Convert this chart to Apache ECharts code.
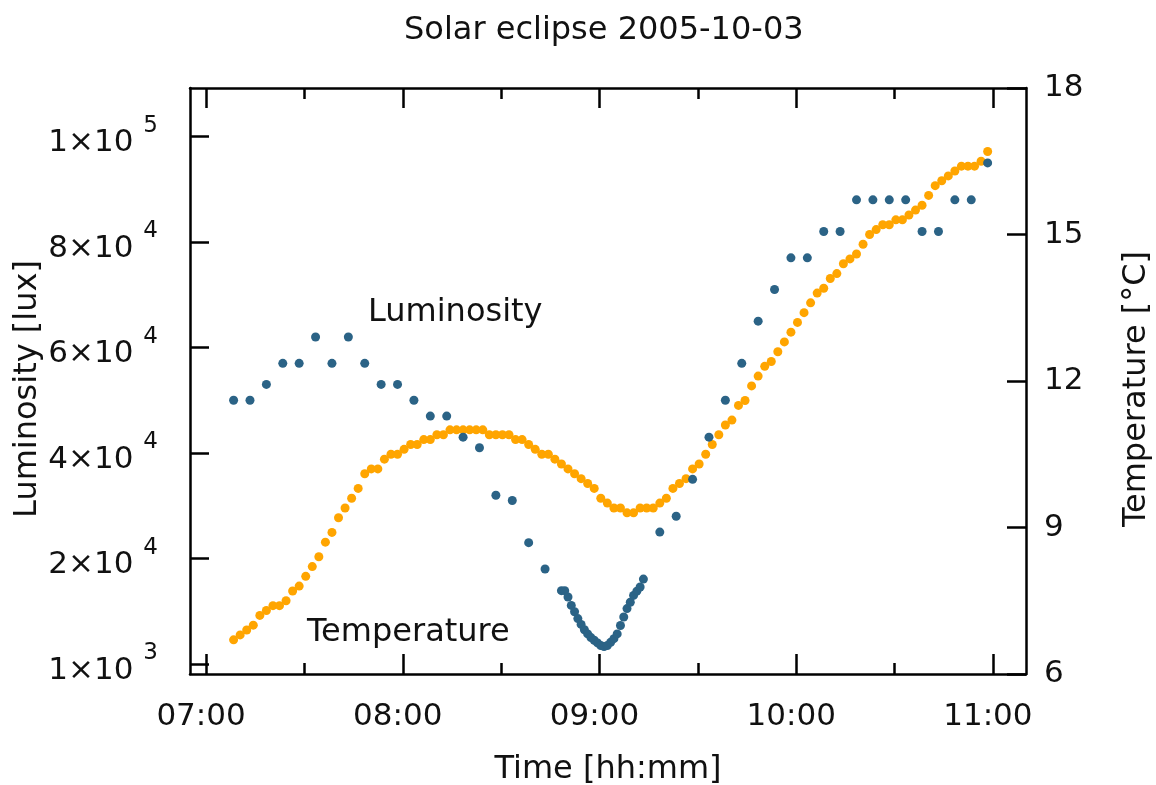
<!DOCTYPE html>
<html><head><meta charset="utf-8">
<script src="https://cdn.jsdelivr.net/npm/echarts@6/dist/echarts.min.js"></script>
<style>html,body{margin:0;padding:0;background:#fff}#c{width:1156px;height:785px}</style>
</head><body><div id="c"></div>
<script>
// minutes after 07:00
const tempMinutes = [
  8.4, 10.4, 12.4, 14.4, 16.4, 18.4, 20.4, 22.4, 24.4, 26.4,
  28.4, 30.4, 32.4, 34.4, 36.4, 38.4, 40.4, 42.4, 44.4, 46.4,
  48.4, 50.4, 52.4, 54.4, 56.4, 58.4, 60.4, 62.4, 64.4, 66.4,
  68.4, 70.4, 72.4, 74.4, 76.4, 78.4, 80.4, 82.4, 84.4, 86.4,
  88.4, 90.4, 92.4, 94.4, 96.4, 98.4, 100.4, 102.4, 104.4, 106.4,
  108.4, 110.4, 112.4, 114.4, 116.4, 118.4, 120.4, 122.4, 124.4, 126.4,
  128.4, 130.4, 132.4, 134.4, 136.4, 138.4, 140.4, 142.4, 144.4, 146.4,
  148.4, 150.4, 152.4, 154.4, 156.4, 158.4, 160.4, 162.4, 164.4, 166.4,
  168.4, 170.4, 172.4, 174.4, 176.4, 178.4, 180.4, 182.4, 184.4, 186.4,
  188.4, 190.4, 192.4, 194.4, 196.4, 198.4, 200.4, 202.4, 204.4, 206.4,
  208.4, 210.4, 212.4, 214.4, 216.4, 218.4, 220.4, 222.4, 224.4, 226.4,
  228.4, 230.4, 232.4, 234.4, 236.4, 238.4
];
const temperature = [
  6.7, 6.8, 6.9, 7.0, 7.2, 7.3, 7.4, 7.4, 7.5, 7.7,
  7.8, 8.0, 8.2, 8.4, 8.7, 8.9, 9.2, 9.4, 9.6, 9.8,
  10.1, 10.2, 10.2, 10.4, 10.5, 10.5, 10.6, 10.7, 10.7, 10.8,
  10.8, 10.9, 10.9, 11.0, 11.0, 11.0, 11.0, 11.0, 11.0, 10.9,
  10.9, 10.9, 10.9, 10.8, 10.8, 10.7, 10.6, 10.5, 10.5, 10.4,
  10.3, 10.2, 10.1, 10.0, 9.9, 9.8, 9.6, 9.5, 9.4, 9.4,
  9.3, 9.3, 9.4, 9.4, 9.4, 9.5, 9.6, 9.8, 9.9, 10.0,
  10.2, 10.3, 10.5, 10.7, 10.9, 11.1, 11.2, 11.5, 11.6, 11.9,
  12.1, 12.3, 12.4, 12.6, 12.8, 13.0, 13.2, 13.4, 13.6, 13.8,
  13.9, 14.1, 14.2, 14.4, 14.5, 14.6, 14.8, 15.0, 15.1, 15.2,
  15.2, 15.3, 15.3, 15.4, 15.5, 15.6, 15.8, 16.0, 16.1, 16.2,
  16.3, 16.4, 16.4, 16.4, 16.5, 16.7
];
const lumMinutes = [
  8.4, 13.4, 18.4, 23.4, 28.4, 33.4, 38.4, 43.4, 48.4, 53.4,
  58.4, 63.4, 68.4, 73.4, 78.4, 83.4, 88.4, 93.4, 98.4, 103.4,
  108.4, 109.4, 110.4, 111.4, 112.4, 113.4, 114.4, 115.4, 116.4, 117.4,
  118.4, 119.4, 120.4, 121.4, 122.4, 123.4, 124.4, 125.4, 126.4, 127.4,
  128.4, 129.4, 130.4, 131.4, 132.4, 133.4,
  138.4, 143.4, 148.4, 153.4, 158.4, 163.4, 168.4, 173.4, 178.4, 183.4,
  188.4, 193.4, 198.4, 203.4, 208.4, 213.4, 218.4, 223.4, 228.4, 233.4, 238.4
];
const luminosity = [
  50000, 50000, 53000, 57000, 57000, 62000, 57000, 62000, 57000, 53000,
  53000, 50000, 47000, 47000, 43000, 41000, 32000, 31000, 23000, 18000,
  13900, 13900, 12700, 11100, 9900, 8600, 7500, 6500, 5700, 5000,
  4500, 4000, 3500, 3300, 3500, 4100, 4800, 5700, 7300, 8900,
  10500, 11700, 13000, 13800, 14600, 16100,
  25000, 28000, 35000, 43000, 50000, 57000, 65000, 71000, 77000, 77000,
  82000, 82000, 88000, 88000, 88000, 88000, 82000, 82000, 88000, 88000, 95000
];
const timeTickValues = [0, 60, 120, 180, 240];
const timeTickLabels = ['07:00', '08:00', '09:00', '10:00', '11:00'];
const timeMinorTicks = [30, 90, 150, 210];
const lumTickValues = [0, 20000, 40000, 60000, 80000, 100000];
const lumTickMantissa = ['1', '2', '4', '6', '8', '1'];
const lumTickExponent = ['3', '4', '4', '4', '4', '5'];

const FONT = 'DejaVu Sans';
const TXT = '#111';
const chart = echarts.init(document.getElementById('c'));
const lineSt = { color: '#000', width: 2.5 };
const xBase = { type: 'value', min: -4.9, max: 250.1, splitLine: { show: false } };
const option = {
  animation: false,
  title: { text: 'Solar eclipse 2005-10-03', left: 399, top: 10,
    textStyle: { fontFamily: FONT, fontSize: 32, fontWeight: 'normal', color: TXT } },
  grid: { left: 190, right: 130, top: 88, bottom: 111, containLabel: false, outerBoundsMode: 'none' },
  xAxis: [
    Object.assign({}, xBase, {
      position: 'bottom', name: 'Time [hh:mm]', nameLocation: 'middle', nameGap: 80, nameMoveOverlap: false,
      nameTextStyle: { fontFamily: FONT, fontSize: 32, color: TXT },
      axisLine: { show: true, onZero: false, lineStyle: lineSt },
      axisTick: { show: true, inside: true, length: 20, customValues: timeTickValues, lineStyle: lineSt },
      axisLabel: { show: true, customValues: timeTickValues, margin: 27, fontFamily: FONT, fontSize: 31, color: TXT,
        padding: [0, 10, 0, 0],
        formatter: v => timeTickLabels[timeTickValues.indexOf(v)] }
    }),
    Object.assign({}, xBase, {
      position: 'bottom', axisLine: { show: false, onZero: false },
      axisTick: { show: true, inside: true, length: 11, customValues: timeMinorTicks, lineStyle: lineSt },
      axisLabel: { show: false }
    }),
    Object.assign({}, xBase, {
      position: 'top', axisLine: { show: true, onZero: false, lineStyle: lineSt },
      axisTick: { show: true, inside: true, length: 20, customValues: timeTickValues, lineStyle: lineSt },
      axisLabel: { show: false }
    }),
    Object.assign({}, xBase, {
      position: 'top', axisLine: { show: false, onZero: false },
      axisTick: { show: true, inside: true, length: 11, customValues: timeMinorTicks, lineStyle: lineSt },
      axisLabel: { show: false }
    })
  ],
  yAxis: [
    {
      type: 'value', position: 'left', min: -1900, max: 109200, splitLine: { show: false },
      name: 'Luminosity [lux]', nameLocation: 'middle', nameRotate: 90, nameGap: 146, nameMoveOverlap: false,
      nameTextStyle: { fontFamily: FONT, fontSize: 32, color: TXT, padding: [0, 16, 0, 0] },
      axisLine: { show: true, onZero: false, lineStyle: lineSt },
      axisTick: { show: true, inside: true, length: 19, customValues: lumTickValues, lineStyle: lineSt },
      axisLabel: { show: true, customValues: lumTickValues, margin: 32,
        formatter: v => { const i = lumTickValues.indexOf(v); return '{m|' + lumTickMantissa[i] + '×10}{e|' + lumTickExponent[i] + '}'; },
        rich: {
          m: { fontFamily: FONT, fontSize: 31, color: TXT, lineHeight: 44, verticalAlign: 'bottom' },
          e: { fontFamily: FONT, fontSize: 23, color: TXT, lineHeight: 44, verticalAlign: 'top', padding: [0, 0, 0, 10] }
        } }
    },
    {
      type: 'value', position: 'right', min: 6, max: 18, interval: 3, splitLine: { show: false },
      name: 'Temperature [°C]', nameLocation: 'middle', nameRotate: 90, nameGap: 95, nameMoveOverlap: false,
      nameTextStyle: { fontFamily: FONT, fontSize: 32, color: TXT, padding: [0, 16, 0, 0] },
      axisLine: { show: true, onZero: false, lineStyle: lineSt },
      axisTick: { show: true, inside: true, length: 19, lineStyle: lineSt },
      axisLabel: { show: true, margin: 18, fontFamily: FONT, fontSize: 31, color: TXT }
    }
  ],
  graphic: [
    { type: 'text', left: 368, top: 297, style: { text: 'Luminosity', font: '32px "DejaVu Sans"', fill: TXT } },
    { type: 'text', left: 307, top: 617, style: { text: 'Temperature', font: '32px "DejaVu Sans"', fill: TXT } }
  ],
  series: [
    { type: 'scatter', name: 'Temperature', xAxisIndex: 0, yAxisIndex: 1, symbol: 'circle', symbolSize: 9,
      itemStyle: { color: '#ffa500', opacity: 1 }, data: tempMinutes.map((t, i) => [t, temperature[i]]) },
    { type: 'scatter', name: 'Luminosity', xAxisIndex: 0, yAxisIndex: 0, symbol: 'circle', symbolSize: 9,
      itemStyle: { color: '#2b6386', opacity: 1 }, data: lumMinutes.map((t, i) => [t, luminosity[i]]) }
  ]
};
chart.setOption(option);
</script></body></html>
